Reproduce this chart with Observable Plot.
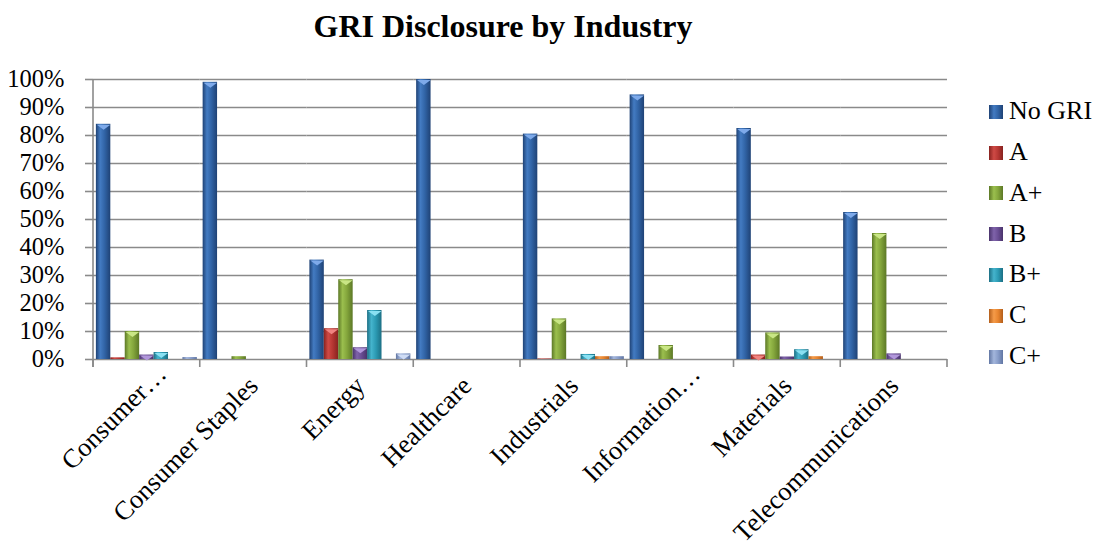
<!DOCTYPE html>
<html>
<head>
<meta charset="utf-8">
<script src="https://cdn.jsdelivr.net/npm/d3@7"></script>
<script src="https://cdn.jsdelivr.net/npm/@observablehq/plot@0.6"></script>
<style>
  html, body { margin: 0; padding: 0; background: #fff; }
  #wrap { position: relative; width: 1105px; height: 552px; overflow: hidden; font-family: "Liberation Serif", "Times New Roman", serif; color: #000; }
  #chart { position: absolute; left: 0; top: 0; }
  #title { position: absolute; left: 0; width: 1006px; top: 10px; text-align: center; font-size: 32px; font-weight: bold; line-height: 32px; }
  .leg { position: absolute; left: 989px; font-size: 26px; line-height: 26px; white-space: nowrap; }
  .leg .sw { position: absolute; left: 0; width: 14px; height: 14px; }
  .leg .tx { position: absolute; left: 20px; top: 0; }
</style>
</head>
<body>
<div id="wrap">
  <div id="chart"></div>
  <div id="title">GRI Disclosure by Industry</div>
  <div id="legend"></div>
</div>
<script>
// ---- data ----
const categories = ["Consumer…", "Consumer Staples", "Energy", "Healthcare", "Industrials", "Information…", "Materials", "Telecommunications"];
const series = ["No GRI", "A", "A+", "B", "B+", "C", "C+"];
const noGRI = [84, 99, 35.5, 100, 80.5, 94.5, 82.5, 52.5];
const gradeA = [0.6, 0, 11, 0, 0.2, 0, 1.6, 0];
const gradeAPlus = [10, 1, 28.5, 0, 14.5, 5, 9.5, 45];
const gradeB = [1.6, 0, 4.2, 0, 0, 0, 0.9, 2];
const gradeBPlus = [2.5, 0, 17.5, 0, 1.8, 0, 3.5, 0];
const gradeC = [0, 0, 0, 0, 1, 0, 1, 0];
const gradeCPlus = [0.7, 0, 2, 0, 1, 0, 0, 0];
const yTicks = [0, 10, 20, 30, 40, 50, 60, 70, 80, 90, 100];

// ---- styles ----
const palette = {
  "No GRI": {edge: "#1f4275", base: "#3164a6", hi: "#437bc2", top: "#7eaaea"},
  "A":      {edge: "#87221f", base: "#b63733", hi: "#cf4a45", top: "#f08480"},
  "A+":     {edge: "#5c7826", base: "#84a63c", hi: "#9bbf4e", top: "#c9e685"},
  "B":      {edge: "#49336b", base: "#6a4e94", hi: "#7f63aa", top: "#b197da"},
  "B+":     {edge: "#1c6f84", base: "#2c9bb4", hi: "#45b4cd", top: "#8ae0f2"},
  "C":      {edge: "#b35e1b", base: "#e8852f", hi: "#f59b49", top: "#ffc487"},
  "C+":     {edge: "#6176a3", base: "#889dc9", hi: "#a3b6dc", top: "#d0ddf5"}
};
const gradId = s => "grad-" + series.indexOf(s);

const seriesValues = [noGRI, gradeA, gradeAPlus, gradeB, gradeBPlus, gradeC, gradeCPlus];
const data = [];
categories.forEach((c, i) => {
  seriesValues.forEach((vals, j) => {
    data.push({category: c, series: series[j], value: vals[i]});
  });
});

const bevel = {
  draw(ctx, size) {
    ctx.moveTo(-6.8, 0); ctx.lineTo(6.8, 0); ctx.lineTo(0, 5); ctx.closePath();
  }
};

const grid = "#8a8a8a";
const isTruncated = c => c.endsWith("…");
const truncated = categories.filter(isTruncated);

const chart = Plot.plot({
  width: 1105,
  height: 552,
  marginLeft: 93,
  marginRight: 158,
  marginTop: 79,
  marginBottom: 193,
  style: {fontFamily: "'Liberation Serif', 'Times New Roman', serif", fontSize: "24px", color: "#000", background: "transparent", overflow: "visible"},
  fx: {domain: categories, padding: 0, label: null, round: false},
  x: {domain: series, paddingInner: 0, paddingOuter: 0.2, axis: null, round: false},
  y: {domain: [0, 100], label: null},
  color: {domain: series, range: series.map(s => `url(#${gradId(s)})`)},
  marks: [
    Plot.gridY(yTicks.slice(1), {stroke: grid, strokeOpacity: 1, strokeWidth: 1.6}),
    Plot.ruleY([0], {stroke: grid, strokeWidth: 1.6}),
    Plot.axisY(yTicks, {tickFormat: d => d + "%", tickSize: 8, tickPadding: 21, stroke: grid, strokeWidth: 1.6, fontSize: 24.5, label: null}),
    Plot.axisFx({anchor: "bottom", tickRotate: -45, tickSize: 0, tickPadding: 22, fontSize: 26.5, label: null,
                 tickFormat: d => isTruncated(d) ? "" : d}),
    Plot.text(truncated, {fx: d => d, text: d => d, frameAnchor: "bottom", rotate: -45, textAnchor: "end", lineAnchor: "bottom",
                          fontSize: 26.5, dx: 21, dy: 16, fill: "#000"}),
    Plot.barY(data, {fx: "category", x: "series", y: "value", fill: "series"}),
    Plot.dot(data.filter(d => d.value >= 1.5), {fx: "category", x: "series", y: "value", symbol: bevel, dy: 0.5, fill: {value: d => palette[d.series].top, scale: null}, stroke: "none"}),
    Plot.frame({
      facet: "super",
      render(index, scales, values, dims) {
        const g = d3.create("svg:g");
        const defs = g.append("defs");
        series.forEach(s => {
          const p = palette[s];
          const lg = defs.append("linearGradient").attr("id", gradId(s)).attr("x1", "0").attr("x2", "1").attr("y1", "0").attr("y2", "0");
          lg.append("stop").attr("offset", "0%").attr("stop-color", p.edge);
          lg.append("stop").attr("offset", "30%").attr("stop-color", p.hi);
          lg.append("stop").attr("offset", "60%").attr("stop-color", p.base);
          lg.append("stop").attr("offset", "100%").attr("stop-color", p.edge);
        });
        const left = dims.marginLeft;
        const right = dims.width - dims.marginRight;
        const y0 = scales.y(0), yTop = scales.y(100);
        g.append("line").attr("x1", left).attr("x2", left).attr("y1", yTop).attr("y2", y0 + 8)
          .attr("stroke", grid).attr("stroke-width", 1.6);
        const step = (right - left) / categories.length;
        for (let i = 0; i <= categories.length; i++) {
          const x = left + i * step;
          g.append("line").attr("x1", x).attr("x2", x).attr("y1", y0).attr("y2", y0 + 8)
            .attr("stroke", grid).attr("stroke-width", 1.6);
        }
        return g.node();
      }
    })
  ]
});
document.getElementById("chart").appendChild(chart);

// ---- legend ----
const legend = document.getElementById("legend");
const legTop = 111.7, legStep = 40.8;
series.forEach((s, i) => {
  const p = palette[s];
  const cy = legTop + i * legStep;
  const item = document.createElement("div");
  item.className = "leg";
  item.style.top = (cy - 13.5) + "px";
  item.innerHTML = `<div class="sw" style="top:6.5px;background:linear-gradient(to right, ${p.edge} 0%, ${p.hi} 35%, ${p.base} 65%, ${p.edge} 100%);"></div><div class="tx">${s}</div>`;
  legend.appendChild(item);
});
</script>
</body>
</html>
